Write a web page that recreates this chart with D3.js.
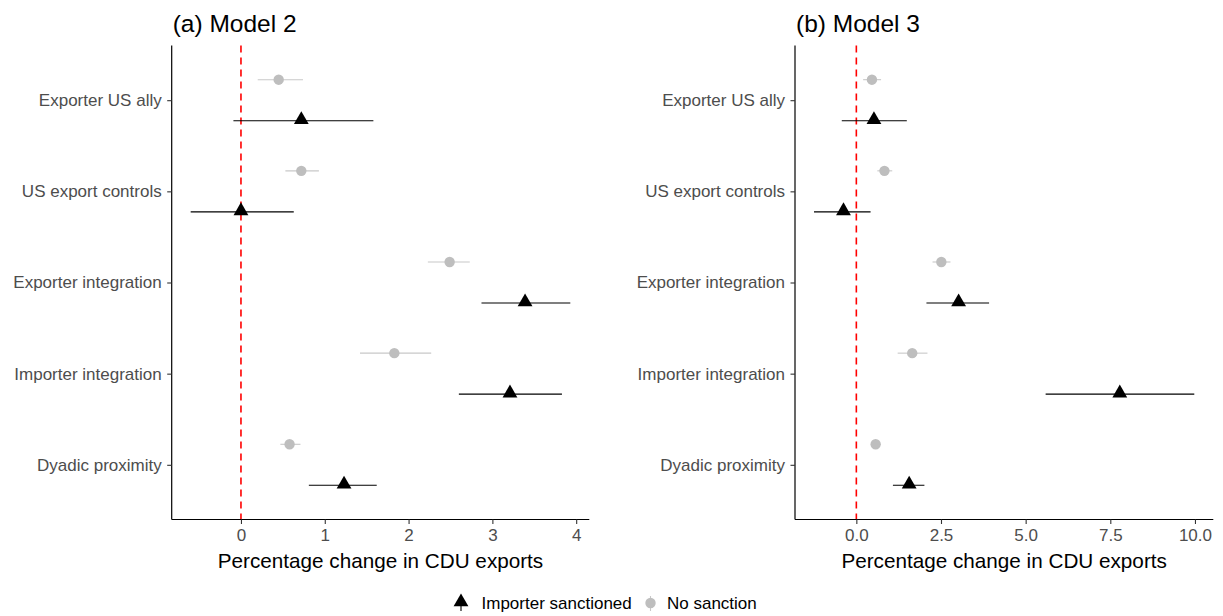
<!DOCTYPE html>
<html>
<head>
<meta charset="utf-8">
<script src="https://cdn.jsdelivr.net/npm/d3@7"></script>
<style>
  html, body { margin: 0; padding: 0; background: #fff; }
  svg { display: block; font-family: "Liberation Sans", Arial, sans-serif; }
</style>
</head>
<body>
<svg id="chart" width="1223" height="616"></svg>
<script>
// Predictors, top to bottom
const categories = ["Exporter US ally", "US export controls", "Exporter integration", "Importer integration", "Dyadic proximity"];
const seriesNames = ["Importer sanctioned", "No sanction"];

// Model 2 estimates with confidence bounds
const m2SanctionedEst = [0.72, 0.00, 3.39, 3.21, 1.23];
const m2SanctionedLo  = [-0.09, -0.60, 2.87, 2.60, 0.81];
const m2SanctionedHi  = [1.58, 0.63, 3.93, 3.83, 1.62];
const m2NoSanctionEst = [0.45, 0.72, 2.49, 1.83, 0.58];
const m2NoSanctionLo  = [0.20, 0.53, 2.23, 1.42, 0.47];
const m2NoSanctionHi  = [0.74, 0.93, 2.73, 2.27, 0.71];
const m2Ticks = [0, 1, 2, 3, 4];

// Model 3 estimates with confidence bounds
const m3SanctionedEst = [0.52, -0.38, 3.02, 7.78, 1.56];
const m3SanctionedLo  = [-0.43, -1.25, 2.07, 5.59, 1.08];
const m3SanctionedHi  = [1.49, 0.42, 3.92, 9.98, 2.01];
const m3NoSanctionEst = [0.46, 0.83, 2.51, 1.65, 0.57];
const m3NoSanctionLo  = [0.20, 0.62, 2.25, 1.22, 0.50];
const m3NoSanctionHi  = [0.73, 1.06, 2.78, 2.10, 0.64];
const m3Ticks = [0, 2.5, 5, 7.5, 10];

const svg = d3.select("#chart");
const FONT = "'Liberation Sans', Arial, sans-serif";

function rows(est, lo, hi, series) {
  return categories.map((c, i) => ({ cat: c, est: est[i], lo: lo[i], hi: hi[i], series }));
}

const panels = [
  {
    title: "(a) Model 2", left: 171.7, right: 589.3, ticks: m2Ticks, fmt: d3.format("d"),
    data: rows(m2NoSanctionEst, m2NoSanctionLo, m2NoSanctionHi, seriesNames[1])
      .concat(rows(m2SanctionedEst, m2SanctionedLo, m2SanctionedHi, seriesNames[0]))
  },
  {
    title: "(b) Model 3", left: 795, right: 1213.3, ticks: m3Ticks, fmt: d3.format(".1f"),
    data: rows(m3NoSanctionEst, m3NoSanctionLo, m3NoSanctionHi, seriesNames[1])
      .concat(rows(m3SanctionedEst, m3SanctionedLo, m3SanctionedHi, seriesNames[0]))
  }
];

const plotTop = 45.5, plotBottom = 519.5;
const triangle = d3.symbol().type(d3.symbolTriangle).size(95);

panels.forEach(p => {
  const g = svg.append("g");
  const lo = d3.min(p.data, d => d.lo), hi = d3.max(p.data, d => d.hi);
  const pad = (hi - lo) * 0.05;
  const x = d3.scaleLinear().domain([lo - pad, hi + pad]).range([p.left, p.right]);
  const y = d3.scalePoint().domain(categories).range([plotTop, plotBottom]).padding(0.6);
  const dodge = y.step() * 0.225;
  const yOf = d => y(d.cat) + (d.series === seriesNames[0] ? dodge : -dodge);

  // zero reference line
  g.append("line")
    .attr("x1", x(0)).attr("x2", x(0))
    .attr("y1", plotTop).attr("y2", plotBottom)
    .attr("stroke", "#FF0000").attr("stroke-width", 1.6)
    .attr("stroke-dasharray", "7,5");

  // confidence intervals
  g.selectAll("line.ci").data(p.data).join("line")
    .attr("class", "ci")
    .attr("x1", d => x(d.lo)).attr("x2", d => x(d.hi))
    .attr("y1", yOf).attr("y2", yOf)
    .attr("stroke", d => d.series === seriesNames[0] ? "#000" : "#C8C8C8")
    .attr("stroke-width", 1.1);

  // point estimates
  const noS = p.data.filter(d => d.series === seriesNames[1]);
  const yesS = p.data.filter(d => d.series === seriesNames[0]);
  g.selectAll("circle.pt").data(noS).join("circle")
    .attr("class", "pt")
    .attr("cx", d => x(d.est)).attr("cy", yOf).attr("r", 5.2)
    .attr("fill", "#BEBEBE");
  g.selectAll("path.pt").data(yesS).join("path")
    .attr("class", "pt")
    .attr("transform", d => `translate(${x(d.est)},${yOf(d) - 1})`)
    .attr("d", triangle)
    .attr("fill", "#000");

  // axes
  const xAxis = g.append("g").attr("transform", `translate(0,${plotBottom})`)
    .call(d3.axisBottom(x).tickValues(p.ticks).tickFormat(p.fmt).tickSize(4.5).tickPadding(3));
  const yAxis = g.append("g").attr("transform", `translate(${p.left},0)`)
    .call(d3.axisLeft(y).tickSize(4.5).tickPadding(5.5));
  xAxis.select(".domain").attr("d", `M${p.left},0H${p.right}`);
  yAxis.select(".domain").attr("d", `M0,${plotTop}V${plotBottom}`);
  [xAxis, yAxis].forEach(a => {
    a.select(".domain").attr("stroke", "#000").attr("stroke-width", 1.2);
    a.selectAll(".tick line").attr("stroke", "#333").attr("stroke-width", 1.1);
    a.selectAll(".tick text").attr("fill", "#4D4D4D").style("font-family", FONT).style("font-size", "17px");
  });
  xAxis.selectAll(".tick text").attr("dy", "0.85em");

  // axis title
  g.append("text")
    .attr("x", (p.left + p.right) / 2).attr("y", 568)
    .attr("text-anchor", "middle")
    .style("font-family", FONT).style("font-size", "20.7px").attr("fill", "#000")
    .text("Percentage change in CDU exports");

  // panel title
  g.append("text")
    .attr("x", p.left + 1).attr("y", 32)
    .style("font-family", FONT).style("font-size", "24.5px").attr("fill", "#000")
    .text(p.title);
});

// legend
const legend = svg.append("g").attr("transform", "translate(0,603)");
const keys = [
  { name: seriesNames[0], kx: 461, tx: 481.5, color: "#000", shape: "tri" },
  { name: seriesNames[1], kx: 650.5, tx: 667, color: "#BEBEBE", shape: "circ" }
];
keys.forEach(k => {
  legend.append("line").attr("x1", k.kx).attr("x2", k.kx).attr("y1", -7).attr("y2", 8)
    .attr("stroke", k.shape === "tri" ? "#000" : "#C8C8C8").attr("stroke-width", 1.1);
  if (k.shape === "tri") {
    legend.append("path").attr("transform", `translate(${k.kx},-1)`).attr("d", triangle).attr("fill", k.color);
  } else {
    legend.append("circle").attr("cx", k.kx).attr("cy", 0).attr("r", 5.2).attr("fill", k.color);
  }
  legend.append("text").attr("x", k.tx).attr("y", 0).attr("dy", "0.35em")
    .style("font-family", FONT).style("font-size", "17px").attr("fill", "#000")
    .text(k.name);
});
</script>
</body>
</html>
